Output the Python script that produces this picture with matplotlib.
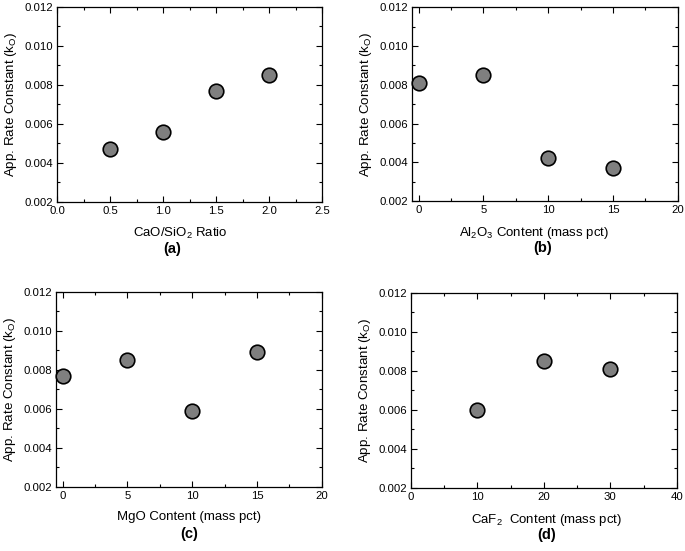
import matplotlib
matplotlib.use("Agg")
import matplotlib.pyplot as plt
from matplotlib.ticker import MultipleLocator, FormatStrFormatter

plt.rcParams['font.family'] = ['Liberation Sans', 'DejaVu Sans']

# Data
a_x = [0.5, 1.0, 1.5, 2.0]
a_y = [0.0047, 0.0056, 0.0077, 0.0085]
b_x = [0, 5, 10, 15]
b_y = [0.0081, 0.0085, 0.0042, 0.0037]
c_x = [0, 5, 10, 15]
c_y = [0.0077, 0.0085, 0.0059, 0.0089]
d_x = [10, 20, 30]
d_y = [0.0060, 0.0085, 0.0081]

ylabel = r'App. Rate Constant (k$_\mathregular{O}$)'
panels = [
    dict(x=a_x, y=a_y, xlim=(0, 2.5), major=0.5, minor=0.25, fmt='%.1f',
         xlabel=r'CaO/SiO$_\mathregular{2}$ Ratio', tag='(a)',
         rect=[0.0832, 0.6334, 0.387, 0.354], lx=0.466, tx=0.436),
    dict(x=b_x, y=b_y, xlim=(-0.5, 20), major=5, minor=2.5, fmt='%d',
         xlabel=r'Al$_\mathregular{2}$O$_\mathregular{3}$ Content (mass pct)', tag='(b)',
         rect=[0.6015, 0.635, 0.388, 0.352], lx=0.46, tx=0.49),
    dict(x=c_x, y=c_y, xlim=(-0.5, 20), major=5, minor=2.5, fmt='%d',
         xlabel='MgO Content (mass pct)', tag='(c)',
         rect=[0.0818, 0.1162, 0.388, 0.354], lx=0.5, tx=0.5),
    dict(x=d_x, y=d_y, xlim=(0, 40), major=10, minor=5, fmt='%d',
         xlabel=r'CaF$_\mathregular{2}$  Content (mass pct)', tag='(d)',
         rect=[0.600, 0.1144, 0.388, 0.354], lx=0.51, tx=0.51),
]

fig = plt.figure(figsize=(6.85, 5.51), dpi=100)
for p in panels:
    ax = fig.add_axes(p['rect'])
    ax.scatter(p['x'], p['y'], s=110, c='#7f7f7f', edgecolors='black',
               linewidths=1.2, zorder=3, clip_on=False)
    ax.set_xlim(*p['xlim'])
    ax.set_ylim(0.002, 0.012)
    ax.xaxis.set_major_locator(MultipleLocator(p['major']))
    ax.xaxis.set_minor_locator(MultipleLocator(p['minor']))
    ax.xaxis.set_major_formatter(FormatStrFormatter(p['fmt']))
    ax.yaxis.set_major_locator(MultipleLocator(0.002))
    ax.yaxis.set_minor_locator(MultipleLocator(0.001))
    ax.yaxis.set_major_formatter(FormatStrFormatter('%.3f'))
    ax.tick_params(which='both', direction='in', top=True, right=True,
                   labelsize=8.2, width=0.8, pad=3)
    ax.tick_params(which='major', length=4)
    ax.tick_params(which='minor', length=2)
    for s in ax.spines.values():
        s.set_linewidth(0.9)
    ax.set_xlabel(p['xlabel'], fontsize=9.5)
    ax.xaxis.set_label_coords(p['lx'], -0.125)
    ax.xaxis.label.set_va('top')
    ax.set_ylabel(ylabel, fontsize=9.6, labelpad=4)
    ax.text(p['tx'], -0.205, p['tag'], transform=ax.transAxes, ha='center',
            va='top', fontsize=10.5, fontweight='bold')

fig.savefig('out.png', dpi=100)
